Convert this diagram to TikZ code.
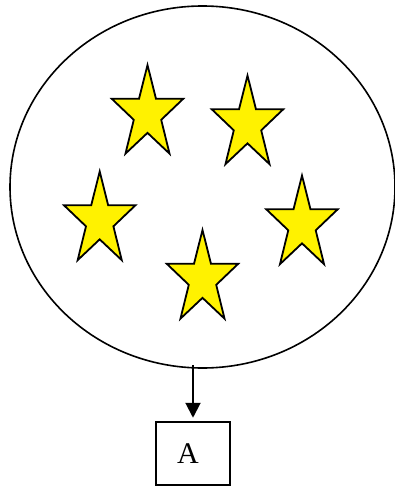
\documentclass[tikz,border=0pt]{standalone}
\usepackage{fontspec}
\setmainfont{Liberation Serif}
\usetikzlibrary{positioning, shapes.geometric, arrows.meta}

\begin{document}
\begin{tikzpicture}[
        x=1pt, y=-1pt,
        pool/.style={draw, ellipse, line width=1.6pt, inner sep=0pt, minimum width=385pt, minimum height=362pt},
        starry/.style={draw, line width=1.8pt, fill=yellow, star, star points=5, star point ratio=2.6, inner sep=0pt, minimum size=98pt, xscale=0.765, transform shape},
        box/.style={draw, line width=1.5pt, minimum width=74pt, minimum height=63pt, inner sep=0pt, font=\fontsize{30}{36}\selectfont},
        arr/.style={-{Triangle[width=15pt, length=15pt]}, line width=2pt}
    ]

    \useasboundingbox (0,0) rectangle (395,487);

    % Ellipse holding the stars
    \node[pool] (pool) at (202.5,187) {};

    % Stars
    \node[starry] (s1) at (147.5,114) {};
    \node[starry] (s2) at (247.5,124.5) {};
    \node[starry] (s3) at (99.7,220.5) {};
    \node[starry] (s4) at (302,224.5) {};
    \node[starry] (s5) at (202.5,279) {};

    % Box A
    \node[box] (boxa) at (193,453.5) {A\hspace*{10pt}};

    % Connection
    \draw[arr, shorten >=3.5pt] ([yshift=4pt]boxa.north |- pool.south) -- (boxa.north);

\end{tikzpicture}
\end{document}
